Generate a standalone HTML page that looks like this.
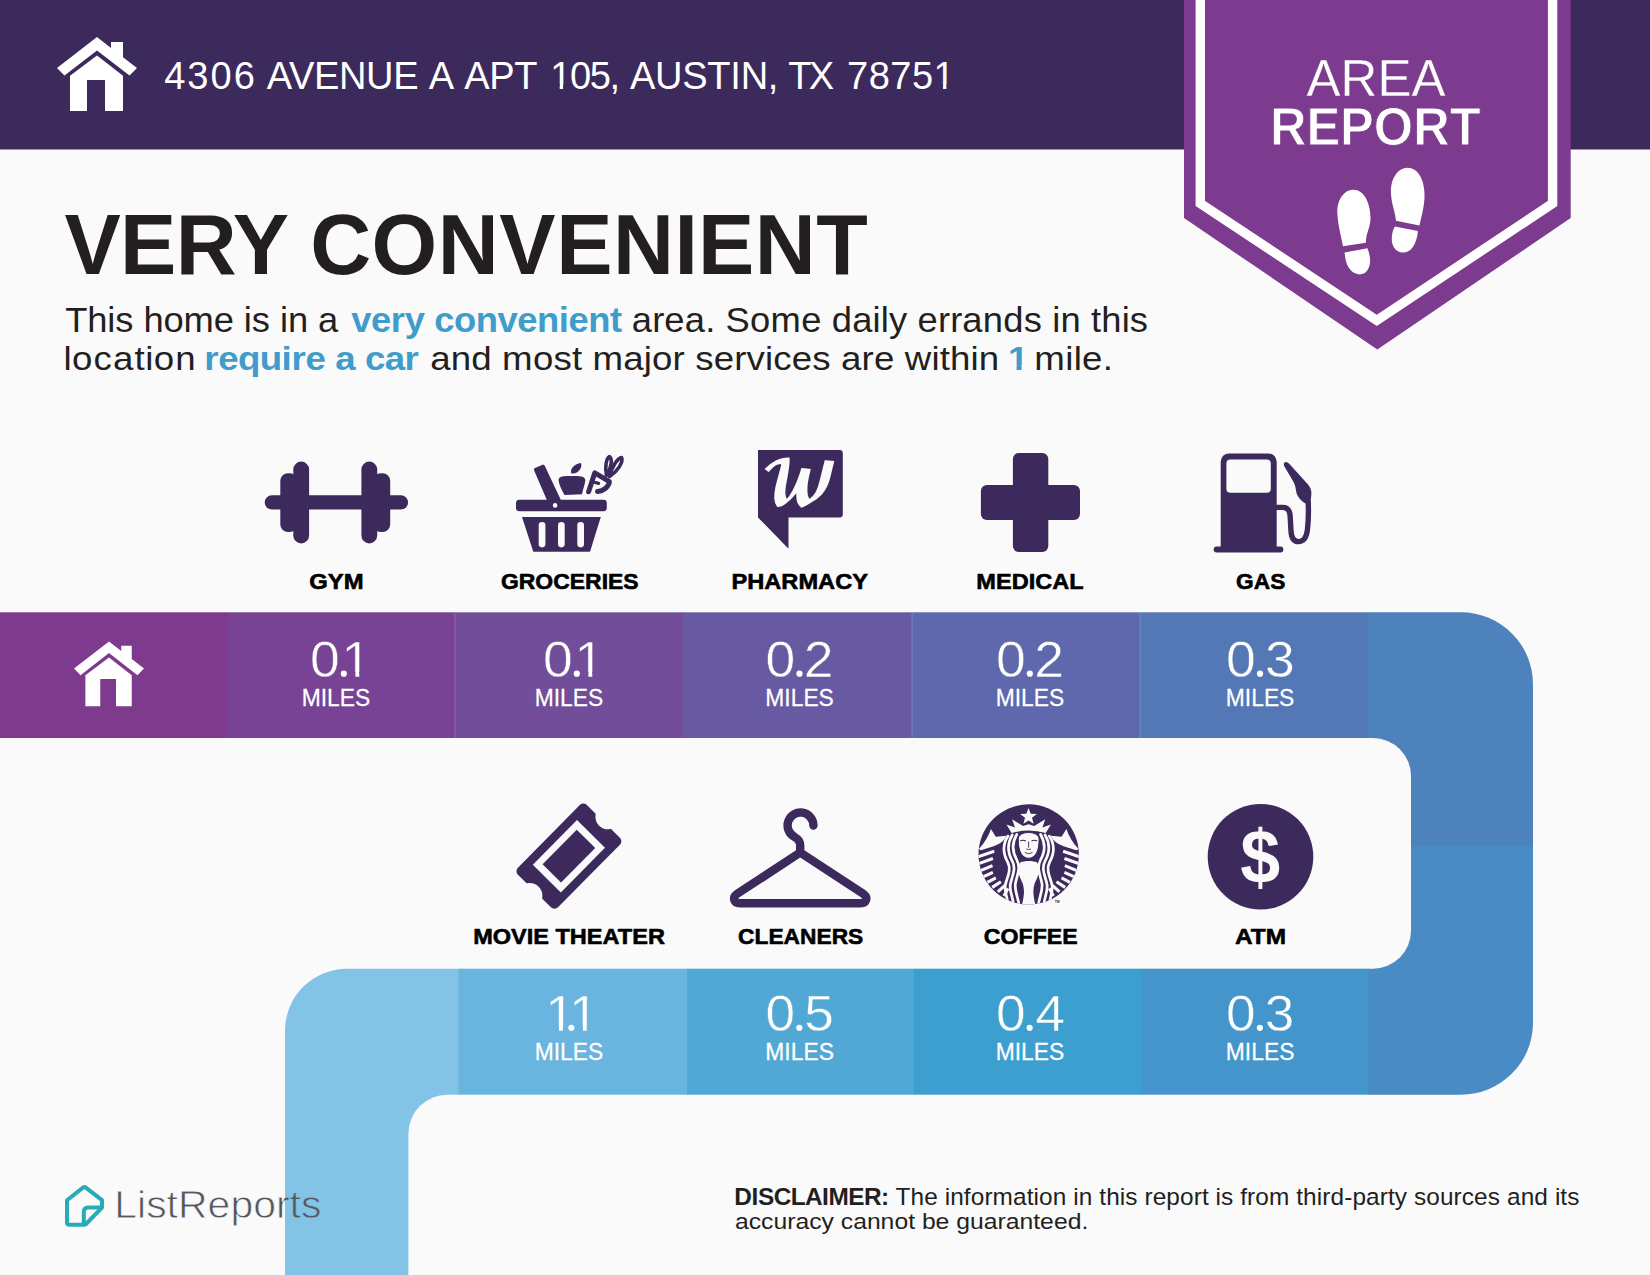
<!DOCTYPE html>
<html lang="en"><head><meta charset="utf-8"><title>Area Report</title>
<style>
html,body{margin:0;padding:0;background:#fafafa;}
body{width:1650px;height:1275px;overflow:hidden;}
svg{display:block;font-family:"Liberation Sans", Arial, sans-serif;}
</style></head>
<body>
<svg width="1650" height="1275" viewBox="0 0 1650 1275">
<rect x="0" y="0" width="1650" height="1275" fill="#fafafa"/>
<rect x="0" y="0" width="1650" height="149.5" fill="#3c2a5c"/>
<polygon points="97.00,37.00 111.00,47.90 111.00,42.00 123.00,42.00 123.00,57.20 137.00,68.00 129.50,75.60 97.00,50.40 64.50,75.60 57.00,68.00" fill="#ffffff"/><polygon points="97.00,55.50 123.00,75.70 123.00,111.00 70.00,111.00 70.00,75.70" fill="#ffffff"/><polygon points="87.00,80.00 105.00,80.00 105.00,112.00 87.00,112.00" fill="#3c2a5c"/>
<polygon points="1184,0 1570.7,0 1570.7,218 1377.3,349.5 1184,218" fill="#7d3b8f"/>
<polyline points="1200.3,-5 1200.3,203.5 1376.8,320.3 1552.6,203.5 1552.6,-5" fill="none" stroke="#ffffff" stroke-width="9.4" stroke-linejoin="miter"/>
<rect x="0" y="612.3" width="228.5" height="125.7" fill="#7e3a8d"/>
<rect x="228" y="612.3" width="227.5" height="125.7" fill="#784394"/>
<rect x="455" y="612.3" width="228.5" height="125.7" fill="#724d9a"/>
<rect x="683" y="612.3" width="229.5" height="125.7" fill="#685aa2"/>
<rect x="912" y="612.3" width="228.5" height="125.7" fill="#5f68ac"/>
<rect x="1140" y="612.3" width="228.5" height="125.7" fill="#5478b6"/>
<path d="M1368 612.3 H1461 A72 72 0 0 1 1533 684.3 V846 H1411 V776 A38 38 0 0 0 1373 738 H1368 Z" fill="#4e82bd"/>
<path d="M1411 846 H1533 V1022.7 A72 72 0 0 1 1461 1094.7 H1368 V968.7 H1373 A38 38 0 0 0 1411 930.7 Z" fill="#498bc5"/>
<rect x="458" y="968.7" width="229.5" height="126" fill="#69b5df"/>
<rect x="687" y="968.7" width="227.5" height="126" fill="#52a8d5"/>
<rect x="914" y="968.7" width="227.5" height="126" fill="#3d9ed0"/>
<rect x="1141" y="968.7" width="227.5" height="126" fill="#4395cb"/>
<path d="M458.5 968.7 H347 A62 62 0 0 0 285 1030.7 V1275 H408.4 V1133.7 A39 39 0 0 1 447.4 1094.7 H458.5 Z" fill="#83c4e6"/>
<rect x="454.5" y="612.3" width="1" height="125.7" fill="#ffffff" opacity="0.18"/>
<rect x="911.5" y="612.3" width="1" height="125.7" fill="#ffffff" opacity="0.18"/>
<rect x="1139.5" y="612.3" width="1" height="125.7" fill="#ffffff" opacity="0.18"/>
<polygon points="109.00,641.40 121.25,650.94 121.25,645.77 131.75,645.77 131.75,659.07 144.00,668.52 137.44,675.17 109.00,653.12 80.56,675.17 74.00,668.52" fill="#ffffff"/><polygon points="109.00,657.59 131.75,675.26 131.75,706.15 85.38,706.15 85.38,675.26" fill="#ffffff"/><polygon points="100.25,679.02 116.00,679.02 116.00,707.02 100.25,707.02" fill="#7e3a8d"/>
<!-- ===== footprints in badge ===== -->
<g fill="#ffffff">
<path d="M1353.6 189.7 C1343.6 189.7 1337 200.5 1337.3 212.3 C1337.5 220 1339 227 1340.2 233 L1343 246.3 L1365.9 242.7 C1365.9 239.6 1366.2 237 1367 234.2 C1368.6 229 1370.7 224 1370.5 217.6 C1370.2 202 1363.6 189.7 1353.6 189.7 Z"/>
<path d="M1344.6 252.4 L1367.4 248.3 C1369.2 252.6 1370.4 257.4 1370 262.6 C1369.4 269.6 1365.6 274.4 1359.8 274.4 C1353 274.4 1348.2 268.6 1346.4 262.6 C1345.4 259 1344.8 255.6 1344.6 252.4 Z"/>
<path d="M1407.7 167.7 C1397.4 167.7 1390.6 179.4 1390.9 192 C1391.1 198.4 1392.3 203.6 1393.5 208.4 C1394.7 213 1395.7 216.8 1396 220.8 L1419.4 225.4 L1422.4 212.6 C1423.6 207 1424.7 200.6 1424.5 193.4 C1424.1 179 1417.6 167.7 1407.7 167.7 Z"/>
<path d="M1394.9 226.4 L1417.9 231 C1417.7 234 1417.2 237 1416.2 240 C1414 247 1409.6 252.5 1403.4 252.5 C1397.2 252.5 1392.6 247.6 1391.9 241.4 C1391.5 237.4 1392.2 233.4 1393 230.6 Z"/>
</g>

<!-- ===== GYM ===== -->
<g fill="#3c2a5c">
<rect x="264.7" y="495.3" width="143.4" height="14.2" rx="7.1"/>
<rect x="293.3" y="461.6" width="15.8" height="81.8" rx="7.9"/>
<rect x="280.3" y="473.2" width="17" height="58.8" rx="7.5"/>
<rect x="361.4" y="461.6" width="15.8" height="81.8" rx="7.9"/>
<rect x="373.2" y="473.2" width="17" height="58.8" rx="7.5"/>
</g>

<!-- ===== GROCERIES ===== -->
<g fill="#3c2a5c">
<rect x="516" y="499.8" width="90.8" height="11.4" rx="3.4"/>
<polygon points="522,517 600.8,517 590,551.8 533.3,551.8"/>
<polygon points="535.6,469.6 543.2,466.4 559.2,500.5 550,503" stroke="#3c2a5c" stroke-width="3.4" stroke-linejoin="round"/>
<path d="M558.6 479.4 C559.4 476.4 563 476 571.4 476 C580.4 476 584.4 476.4 585.2 479.4 C585.6 482 583.8 486.4 582 494.2 L564.8 495 C563.2 493.2 558.2 483 558.6 479.4 Z"/>
<path d="M571.4 473.4 C569.6 469.8 573.6 463.8 581 463 C582.6 467.6 578.6 474.2 571.4 473.4 Z"/>
</g>
<g fill="#fafafa">
<rect x="538.7" y="522" width="6.7" height="25.4" rx="3.3"/>
<rect x="558" y="522" width="6.7" height="25.4" rx="3.3"/>
<rect x="577.3" y="522" width="6.7" height="25.4" rx="3.3"/>
<circle cx="555.1" cy="505.4" r="2.3"/>
</g>
<g fill="none" stroke="#3c2a5c" stroke-linejoin="round" stroke-linecap="round">
<path d="M588.6 491.8 L594.8 472.8 L609.4 481.6 C609 486.6 603.6 491 597.6 491.6" stroke-width="5"/>
<path d="M594.4 482.2 L598.6 483.4" stroke-width="3.2"/>
<path d="M606.4 475.4 C604.8 467 606.2 458.4 609.4 456.6 C612.6 458.6 611.6 468 606.4 475.4 Z" stroke-width="3.6"/>
<path d="M609.6 476.6 C611.6 467 617 458.8 621.6 457.6 C623.6 462 617.4 471.6 609.6 476.6 Z" stroke-width="3.6"/>
</g>

<!-- ===== PHARMACY ===== -->
<path d="M758 450 H839.6 A3.2 3.2 0 0 1 842.8 453.2 V514.2 A3.2 3.2 0 0 1 839.6 517.4 H788.5 V548.8 L758 517.4 Z" fill="#3c2a5c"/>
<text id="wlogo" transform="translate(759.9 503.2)" font-family="&quot;DejaVu Math TeX Gyre&quot;, &quot;DejaVu Serif&quot;, &quot;Liberation Serif&quot;, serif" font-size="57" fill="#fafafa">&#x1D4E6;</text>

<!-- ===== MEDICAL ===== -->
<g fill="#3c2a5c">
<rect x="1012.9" y="452.9" width="35.4" height="99.1" rx="6"/>
<rect x="980.9" y="485" width="99.1" height="35" rx="6"/>
</g>

<!-- ===== GAS ===== -->
<g fill="#3c2a5c">
<path d="M1220.7 547 V461.8 A8.4 8.4 0 0 1 1229.1 453.4 H1268.3 A8.4 8.4 0 0 1 1276.7 461.8 V547 Z"/>
<rect x="1213.7" y="546.4" width="69.7" height="6" rx="3"/>
<path d="M1284.6 462.6 C1286 461.6 1287.4 462 1289 463.6 L1307.6 484 C1310.6 487.4 1311.6 490.4 1311.4 494 L1310.2 505 L1304.6 503 C1300 500 1296.6 495.6 1296 490.6 C1295.6 487 1295 484.6 1293 481 L1284.4 466.6 C1283.6 465 1283.6 463.6 1284.6 462.6 Z"/>
</g>
<rect x="1226.4" y="459.4" width="44.4" height="33.4" rx="4" fill="#fafafa"/>
<path d="M1276 507.4 H1282.6 C1288.6 507.4 1290 511.6 1290.2 517 L1291 531 C1291.4 538 1293.6 541.6 1298.4 541.6 C1303.6 541.6 1306.4 537.6 1307.4 530 C1308.6 520 1308.6 511 1308.2 502" fill="none" stroke="#3c2a5c" stroke-width="5.4" stroke-linecap="round"/>

<!-- ===== MOVIE THEATER ===== -->
<g transform="translate(568.9 856.2) rotate(-45.3)">
<rect x="-49" y="-28.2" width="98" height="56.4" rx="5" fill="#3c2a5c"/>
<circle cx="-55.6" cy="0" r="12.6" fill="#fafafa"/>
<circle cx="55.6" cy="0" r="12.6" fill="#fafafa"/>
<rect x="-31.4" y="-19.7" width="62.8" height="39.4" fill="#fafafa"/>
<rect x="-24.3" y="-13" width="48.6" height="26" fill="#3c2a5c"/>
</g>

<!-- ===== CLEANERS ===== -->
<path d="M813.4 825.6 A12.9 12.9 0 1 0 794.4 836.8 C798.6 839.2 800.2 841.6 800.2 845.4 V852.6 L737.6 893.6 C731.6 897.6 734 903.2 740 903.2 H860.4 C866.4 903.2 868.8 897.6 862.8 893.6 L800.2 852.6" fill="none" stroke="#3c2a5c" stroke-width="8.4" stroke-linecap="round" stroke-linejoin="round"/>

<!-- ===== ATM ===== -->
<circle cx="1260.5" cy="856.7" r="52.8" fill="#3c2a5c"/>

<g transform="translate(955 790) scale(0.10197)">
<clipPath id="sbc"><circle cx="722.5" cy="632.5" r="492"/></clipPath>
<circle cx="722.5" cy="632.5" r="492" fill="#3c2a5c"/>
<g clip-path="url(#sbc)">
<polygon points="721.0,176.0 742.2,232.9 802.8,235.4 755.2,273.1 771.5,331.6 721.0,298.0 670.5,331.6 686.8,273.1 639.2,235.4 699.8,232.9" fill="#fafafa"/>
<path d="M505 338 L588 368 L560 287 L668 354 L722 336 L777 354 L885 287 L857 368 L940 338 L890 422 Q722 372 555 422 Z" fill="#fafafa"/>
<path d="M 352 382 L 400 458 L 505 448 C 470 520 420 545 250 590 L 235 575 C 290 520 330 450 352 382 Z" fill="#fafafa"/>
<path d="M 1093 382 L 1045 458 L 940 448 C 975 520 1025 545 1195 590 L 1210 575 C 1155 520 1115 450 1093 382 Z" fill="#fafafa"/>
<path d="M 225 655 L 385 600" stroke="#fafafa" stroke-width="30" fill="none"/>
<path d="M 1220 655 L 1060 600" stroke="#fafafa" stroke-width="30" fill="none"/>
<path d="M 232 722 L 372 672" stroke="#fafafa" stroke-width="30" fill="none"/>
<path d="M 1213 722 L 1073 672" stroke="#fafafa" stroke-width="30" fill="none"/>
<path d="M 250 790 L 368 742" stroke="#fafafa" stroke-width="30" fill="none"/>
<path d="M 1195 790 L 1077 742" stroke="#fafafa" stroke-width="30" fill="none"/>
<path d="M 280 850 L 372 808" stroke="#fafafa" stroke-width="30" fill="none"/>
<path d="M 1165 850 L 1073 808" stroke="#fafafa" stroke-width="30" fill="none"/>
<path d="M 318 905 L 400 862" stroke="#fafafa" stroke-width="30" fill="none"/>
<path d="M 1127 905 L 1045 862" stroke="#fafafa" stroke-width="30" fill="none"/>
<path d="M 365 955 L 450 900" stroke="#fafafa" stroke-width="30" fill="none"/>
<path d="M 1080 955 L 995 900" stroke="#fafafa" stroke-width="30" fill="none"/>
<path d="M 420 1000 L 490 935" stroke="#fafafa" stroke-width="30" fill="none"/>
<path d="M 1025 1000 L 955 935" stroke="#fafafa" stroke-width="30" fill="none"/>
<path d="M 480 1040 L 520 965" stroke="#fafafa" stroke-width="30" fill="none"/>
<path d="M 965 1040 L 925 965" stroke="#fafafa" stroke-width="30" fill="none"/>
<path d="M 606 436 C 556 520 556 600 608 690 C 650 770 602 850 592 920 C 582 990 622 1060 627 1125" stroke="#fafafa" stroke-width="27" fill="none" stroke-linecap="round"/>
<path d="M 839 436 C 889 520 889 600 837 690 C 795 770 843 850 853 920 C 863 990 823 1060 818 1125" stroke="#fafafa" stroke-width="27" fill="none" stroke-linecap="round"/>
<path d="M 562 440 C 508 530 512 610 563 700 C 605 780 552 860 542 930 C 534 1000 572 1060 572 1120" stroke="#fafafa" stroke-width="27" fill="none" stroke-linecap="round"/>
<path d="M 883 440 C 937 530 933 610 882 700 C 840 780 893 860 903 930 C 911 1000 873 1060 873 1120" stroke="#fafafa" stroke-width="27" fill="none" stroke-linecap="round"/>
<path d="M 520 452 C 462 540 468 620 518 710 C 560 790 502 870 492 940 C 486 1000 512 1050 514 1090" stroke="#fafafa" stroke-width="27" fill="none" stroke-linecap="round"/>
<path d="M 925 452 C 983 540 977 620 927 710 C 885 790 943 870 953 940 C 959 1000 933 1050 931 1090" stroke="#fafafa" stroke-width="27" fill="none" stroke-linecap="round"/>
<path d="M 640 712 C 680 692 765 692 805 712 C 850 790 810 850 780 920 C 760 985 768 1050 790 1130 L 655 1130 C 677 1050 685 985 665 920 C 635 850 595 790 640 712 Z" fill="#fafafa"/>
<path d="M 620 480 C 620 432 680 416 722 416 C 764 416 825 432 825 480 C 825 575 800 668 722 670 C 645 668 620 575 620 480 Z" fill="#fafafa" stroke="#3c2a5c" stroke-width="10"/>
<path d="M 640 498 Q 668 486 695 500 M 750 500 Q 777 486 805 498" stroke="#3c2a5c" stroke-width="11" fill="none"/>
<path d="M 722 505 L 722 565 M 700 578 Q 722 590 745 578 M 685 612 Q 722 640 760 612" stroke="#3c2a5c" stroke-width="9" fill="none"/>
</g>
<text x="978" y="1112" font-size="34" font-weight="700" fill="#3c2a5c">TM</text>
</g>
<text transform="translate(1240.35 883.00) scale(0.9357 1)" font-size="76.80" font-weight="700" fill="#fafafa">$</text>
<g fill="none" stroke="#27abb6" stroke-width="4" stroke-linejoin="round" stroke-linecap="round">
<path d="M83 1187.6 Q84.4 1186.4 85.8 1187.6 L102 1200.2 V1207.6 L86 1224 Q85.2 1224.8 84 1224.8 H69.4 Q67 1224.8 67 1222.4 V1200.2 Z"/>
<path d="M100.8 1207.6 H88.2 C85.4 1207.6 83.8 1209.4 83.8 1212.2 V1223.4"/>
</g>
<text xml:space="preserve" transform="translate(164.13 88.50) scale(0.9957 1)" font-size="38.23"><tspan x="-0.00 23.33 46.65 69.98 93.31" font-weight="400" fill="#ffffff">4306 </tspan><tspan x="102.94 125.31 150.47 175.63 202.87 230.11 255.28 265.76 290.92 301.40 326.56 351.72 374.76" font-weight="400" fill="#ffffff">AVENUE A APT </tspan><tspan x="387.69 407.58 427.47 447.36 457.29" font-weight="400" fill="#ffffff">105, </tspan><tspan x="467.83 493.02 520.30 545.50 568.57 579.06 606.34 616.84" font-weight="400" fill="#ffffff">AUSTIN, </tspan><tspan x="626.73 647.29 669.73" font-weight="400" fill="#ffffff">TX </tspan><tspan x="685.89 707.59 729.29 750.99 772.69" font-weight="400" fill="#ffffff">78751</tspan></text>
<text xml:space="preserve" transform="translate(64.42 274.40) scale(0.9943 1)" font-size="84.89"><tspan x="0.00 55.97 111.93 169.41 225.38" font-weight="700" fill="#231f20">VERY </tspan><tspan x="247.13 308.97 375.58 437.43 494.54 551.66 613.50 637.30 694.41 756.26" font-weight="700" fill="#231f20">CONVENIENT</tspan></text>
<text xml:space="preserve" transform="translate(65.18 332.40) scale(1.0418 1)" font-size="34.88"><tspan x="-0.00 21.18 40.45 48.16 65.49 75.12 94.40 113.68 142.56 161.84 171.47 179.17 196.50 206.13 213.83 233.11 242.74 262.02" font-weight="400" fill="#231f20">This home is in a </tspan><tspan x="274.68 293.64 312.61 325.88 344.84 354.32 373.28 394.11 414.94 433.91 452.87 473.70 483.18 502.14 522.97" font-weight="700" fill="#3f9ccb">very convenient</tspan><tspan x="534.02 543.81 563.42 575.16 594.76 614.37 624.16 633.95 657.47 677.07 706.43 726.04 735.83 755.44 775.04 782.87 790.70 808.33 818.12 837.73 849.46 861.20 880.81 900.41 920.02 937.64 947.43 955.27 974.87 984.66 994.46 1014.06 1021.89" font-weight="400" fill="#231f20"> area. Some daily errands in this</tspan></text>
<text xml:space="preserve" transform="translate(63.53 369.60) scale(1.0977 1)" font-size="33.40"><tspan x="0.00 7.83 27.42 45.03 64.62 74.40 82.23 101.82 121.41" font-weight="400" fill="#231f20">location </tspan><tspan x="128.23 140.88 158.96 178.81 198.66 207.69 220.34 238.42 247.45 265.53 274.56 292.63 310.71" font-weight="700" fill="#3f9ccb">require a car</tspan><tspan x="324.63 333.99 352.72 371.45 390.18 399.54 427.60 446.33 463.17 472.52 481.88 509.93 528.66 536.15 554.88 566.09 575.45 592.29 611.02 622.24 639.07 646.56 663.40 682.13 698.97 708.32 727.05 738.27 757.00 766.36 790.68 798.16 807.52 826.25 833.73 852.46" font-weight="400" fill="#231f20"> and most major services are within </tspan><tspan x="860.42" font-weight="700" fill="#3f9ccb">1</tspan><tspan x="874.92 884.36 912.67 920.22 927.77 946.67" font-weight="400" fill="#231f20"> mile.</tspan></text>
<text xml:space="preserve" transform="translate(1306.60 95.50) scale(0.9878 1)" font-size="51.60" stroke="#7d3b8f" stroke-width="0.3" stroke-linejoin="round"><tspan x="0.00 34.42 71.68 106.10" font-weight="400" fill="#ffffff">AREA</tspan></text>
<text xml:space="preserve" transform="translate(1269.92 145.30) scale(0.9323 1)" font-size="54.22" stroke="#7d3b8f" stroke-width="0.9" stroke-linejoin="round"><tspan x="0.00 39.15 75.31 111.48 153.65 192.80" font-weight="700" fill="#ffffff">REPORT</tspan></text>
<text xml:space="preserve" transform="translate(309.32 589.30) scale(1.0395 1)" font-size="22.97" stroke="#000000" stroke-width="0.6" stroke-linejoin="round"><tspan x="0.00 17.86 33.18" font-weight="700" fill="#000000">GYM</tspan></text>
<text xml:space="preserve" transform="translate(500.96 589.30) scale(0.9987 1)" font-size="22.97" stroke="#000000" stroke-width="0.6" stroke-linejoin="round"><tspan x="0.00 17.86 34.45 52.31 68.90 84.21 100.80 107.18 122.50" font-weight="700" fill="#000000">GROCERIES</tspan></text>
<text xml:space="preserve" transform="translate(731.42 589.30) scale(1.0299 1)" font-size="22.97" stroke="#000000" stroke-width="0.6" stroke-linejoin="round"><tspan x="0.00 15.32 31.90 48.49 65.07 84.20 100.79 117.37" font-weight="700" fill="#000000">PHARMACY</tspan></text>
<text xml:space="preserve" transform="translate(976.32 589.30) scale(1.0267 1)" font-size="22.97" stroke="#000000" stroke-width="0.6" stroke-linejoin="round"><tspan x="0.00 19.13 34.45 51.03 57.41 74.00 90.58" font-weight="700" fill="#000000">MEDICAL</tspan></text>
<text xml:space="preserve" transform="translate(1236.07 589.30) scale(0.9890 1)" font-size="22.97" stroke="#000000" stroke-width="0.6" stroke-linejoin="round"><tspan x="0.00 17.86 34.45" font-weight="700" fill="#000000">GAS</tspan></text>
<text xml:space="preserve" transform="translate(473.13 943.60) scale(1.0312 1)" font-size="22.82" stroke="#000000" stroke-width="0.6" stroke-linejoin="round"><tspan x="0.00 19.01 36.76 51.98 58.32 73.54 79.88 93.82 110.30 125.52 140.31 154.25 169.47" font-weight="700" fill="#000000">MOVIE THEATER</tspan></text>
<text xml:space="preserve" transform="translate(738.07 943.60) scale(0.9976 1)" font-size="22.82" stroke="#000000" stroke-width="0.6" stroke-linejoin="round"><tspan x="0.00 16.48 30.42 45.64 62.12 78.60 93.82 110.30" font-weight="700" fill="#000000">CLEANERS</tspan></text>
<text xml:space="preserve" transform="translate(983.85 943.60) scale(1.0130 1)" font-size="22.82" stroke="#000000" stroke-width="0.6" stroke-linejoin="round"><tspan x="0.00 16.48 34.23 48.17 62.11 77.33" font-weight="700" fill="#000000">COFFEE</tspan></text>
<text xml:space="preserve" transform="translate(1234.99 943.60) scale(1.0692 1)" font-size="22.82" stroke="#000000" stroke-width="0.6" stroke-linejoin="round"><tspan x="0.00 14.79 28.73" font-weight="700" fill="#000000">ATM</tspan></text>
<text xml:space="preserve" transform="translate(309.91 676.60) scale(1.0700 1)" font-size="49.98" fill="#ffffff" stroke="#784394" stroke-width="0.5" x="0.00 24.74 29.53">0.1</text>
<text xml:space="preserve" transform="translate(301.63 706.00) scale(0.9579 1)" font-size="23.84" stroke="#ffffff" stroke-width="0.25" stroke-linejoin="round"><tspan x="0.00 19.86 26.48 39.74 55.64" font-weight="400" fill="#ffffff">MILES</tspan></text>
<text xml:space="preserve" transform="translate(542.91 676.60) scale(1.0700 1)" font-size="49.98" fill="#ffffff" stroke="#724d9a" stroke-width="0.5" x="0.00 24.74 29.53">0.1</text>
<text xml:space="preserve" transform="translate(534.63 706.00) scale(0.9579 1)" font-size="23.84" stroke="#ffffff" stroke-width="0.25" stroke-linejoin="round"><tspan x="0.00 19.86 26.48 39.74 55.64" font-weight="400" fill="#ffffff">MILES</tspan></text>
<text xml:space="preserve" transform="translate(765.61 676.60) scale(1.0700 1)" font-size="49.98" fill="#ffffff" stroke="#685aa2" stroke-width="0.5" x="0.00 24.74 35.75">0.2</text>
<text xml:space="preserve" transform="translate(765.33 706.00) scale(0.9579 1)" font-size="23.84" stroke="#ffffff" stroke-width="0.25" stroke-linejoin="round"><tspan x="0.00 19.86 26.48 39.74 55.64" font-weight="400" fill="#ffffff">MILES</tspan></text>
<text xml:space="preserve" transform="translate(995.91 676.60) scale(1.0700 1)" font-size="49.98" fill="#ffffff" stroke="#5f68ac" stroke-width="0.5" x="0.00 24.74 35.75">0.2</text>
<text xml:space="preserve" transform="translate(995.63 706.00) scale(0.9579 1)" font-size="23.84" stroke="#ffffff" stroke-width="0.25" stroke-linejoin="round"><tspan x="0.00 19.86 26.48 39.74 55.64" font-weight="400" fill="#ffffff">MILES</tspan></text>
<text xml:space="preserve" transform="translate(1226.11 676.60) scale(1.0700 1)" font-size="49.98" fill="#ffffff" stroke="#5478b6" stroke-width="0.5" x="0.00 24.74 36.36">0.3</text>
<text xml:space="preserve" transform="translate(1225.83 706.00) scale(0.9579 1)" font-size="23.84" stroke="#ffffff" stroke-width="0.25" stroke-linejoin="round"><tspan x="0.00 19.86 26.48 39.74 55.64" font-weight="400" fill="#ffffff">MILES</tspan></text>
<text xml:space="preserve" transform="translate(545.18 1030.70) scale(1.0700 1)" font-size="49.70" fill="#ffffff" stroke="#69b5df" stroke-width="0.5" x="0.00 17.58 22.35">1.1</text>
<text xml:space="preserve" transform="translate(534.63 1060.00) scale(0.9463 1)" font-size="24.13" stroke="#ffffff" stroke-width="0.25" stroke-linejoin="round"><tspan x="0.00 20.10 26.80 40.22 56.32" font-weight="400" fill="#ffffff">MILES</tspan></text>
<text xml:space="preserve" transform="translate(765.62 1030.70) scale(1.0700 1)" font-size="49.70" fill="#ffffff" stroke="#52a8d5" stroke-width="0.5" x="0.00 24.62 36.10">0.5</text>
<text xml:space="preserve" transform="translate(765.33 1060.00) scale(0.9463 1)" font-size="24.13" stroke="#ffffff" stroke-width="0.25" stroke-linejoin="round"><tspan x="0.00 20.10 26.80 40.22 56.32" font-weight="400" fill="#ffffff">MILES</tspan></text>
<text xml:space="preserve" transform="translate(995.92 1030.70) scale(1.0700 1)" font-size="49.70" fill="#ffffff" stroke="#3d9ed0" stroke-width="0.5" x="0.00 24.62 36.95">0.4</text>
<text xml:space="preserve" transform="translate(995.63 1060.00) scale(0.9463 1)" font-size="24.13" stroke="#ffffff" stroke-width="0.25" stroke-linejoin="round"><tspan x="0.00 20.10 26.80 40.22 56.32" font-weight="400" fill="#ffffff">MILES</tspan></text>
<text xml:space="preserve" transform="translate(1226.12 1030.70) scale(1.0700 1)" font-size="49.70" fill="#ffffff" stroke="#4395cb" stroke-width="0.5" x="0.00 24.62 36.20">0.3</text>
<text xml:space="preserve" transform="translate(1225.83 1060.00) scale(0.9463 1)" font-size="24.13" stroke="#ffffff" stroke-width="0.25" stroke-linejoin="round"><tspan x="0.00 20.10 26.80 40.22 56.32" font-weight="400" fill="#ffffff">MILES</tspan></text>
<linearGradient id="g33" gradientUnits="userSpaceOnUse" x1="159.90" y1="0" x2="159.92" y2="0"><stop offset="0" stop-color="#fafafa"/><stop offset="1" stop-color="#83c4e6"/></linearGradient>
<text xml:space="preserve" transform="translate(114.24 1218.40) scale(1.0678 1)" font-size="38.37" stroke="url(#g33)" stroke-width="0.8" stroke-linejoin="round"><tspan x="0.00 21.34 29.87 49.05 59.71 87.43 108.77 130.11 151.45 164.23 174.89" font-weight="400" fill="#56575b">ListReports</tspan></text>
<text xml:space="preserve" transform="translate(734.37 1205.20) scale(1.0495 1)" font-size="23.26"><tspan x="-0.00 16.21 22.44 37.41 53.62 67.33 83.54 89.77 108.47 123.43 139.64" font-weight="700" fill="#231f20">DISCLAIMER:</tspan><tspan x="146.97 153.49 167.82 180.86 193.90 200.42 205.63 218.68 225.19 238.24 246.05 265.59 278.63 285.15 290.36 303.40 316.45 322.96 328.17 341.22 347.74 354.25 367.30 372.51 384.23 390.75 398.56 411.61 424.65 437.70 445.51 452.02 458.54 463.75 475.48 481.99 488.51 496.32 509.37 528.90 535.42 541.94 554.98 560.19 568.00 581.05 588.86 601.90 614.95 622.76 629.27 641.00 647.52 659.25 672.29 685.33 693.15 704.87 717.92 729.64 736.16 749.21 762.25 775.29 781.81 787.02 793.54" font-weight="400" fill="#231f20"> The information in this report is from third-party sources and its</tspan></text>
<text xml:space="preserve" transform="translate(734.95 1229.20) scale(1.1199 1)" font-size="22.08"><tspan x="0.00 12.28 23.32 34.36 46.64 53.99 66.27 77.32 88.36 94.49 105.53 117.81 130.09 142.37 154.65 160.79 166.92 179.20 191.48 197.62 209.90 222.18 234.46 241.81 254.09 266.37 272.51 284.79 297.07 309.35" font-weight="400" fill="#231f20">accuracy cannot be guaranteed.</tspan></text>
<rect x="552.04" y="84.64" width="7.67" height="4.86" fill="#3c2a5c"/>
<rect x="563.07" y="84.64" width="7.38" height="4.86" fill="#3c2a5c"/>
<rect x="935.37" y="84.64" width="7.67" height="4.86" fill="#3c2a5c"/>
<rect x="946.40" y="84.64" width="7.38" height="4.86" fill="#3c2a5c"/>
<rect x="1009.30" y="365.19" width="7.25" height="5.41" fill="#fafafa"/>
<rect x="1021.58" y="365.19" width="6.78" height="5.41" fill="#fafafa"/>
<rect x="344.59" y="671.87" width="10.79" height="5.73" fill="#784394"/>
<rect x="359.27" y="671.87" width="10.38" height="5.73" fill="#784394"/>
<rect x="340.47" y="670.46" width="6.69" height="6.94" fill="#784394"/>
<circle cx="343.81" cy="673.70" r="3.1" fill="#ffffff"/>
<rect x="577.59" y="671.87" width="10.79" height="5.73" fill="#724d9a"/>
<rect x="592.27" y="671.87" width="10.38" height="5.73" fill="#724d9a"/>
<rect x="573.47" y="670.46" width="6.69" height="6.94" fill="#724d9a"/>
<circle cx="576.81" cy="673.70" r="3.1" fill="#ffffff"/>
<rect x="796.17" y="670.46" width="6.69" height="6.94" fill="#685aa2"/>
<circle cx="799.51" cy="673.70" r="3.1" fill="#ffffff"/>
<rect x="1026.47" y="670.46" width="6.69" height="6.94" fill="#5f68ac"/>
<circle cx="1029.81" cy="673.70" r="3.1" fill="#ffffff"/>
<rect x="1256.67" y="670.46" width="6.69" height="6.94" fill="#5478b6"/>
<circle cx="1260.01" cy="673.70" r="3.1" fill="#ffffff"/>
<rect x="548.24" y="1025.99" width="10.74" height="5.71" fill="#69b5df"/>
<rect x="562.84" y="1025.99" width="10.32" height="5.71" fill="#69b5df"/>
<rect x="572.15" y="1025.99" width="10.74" height="5.71" fill="#69b5df"/>
<rect x="586.75" y="1025.99" width="10.32" height="5.71" fill="#69b5df"/>
<rect x="568.05" y="1024.59" width="6.66" height="6.91" fill="#69b5df"/>
<circle cx="571.38" cy="1027.80" r="3.1" fill="#ffffff"/>
<rect x="796.02" y="1024.59" width="6.66" height="6.91" fill="#52a8d5"/>
<circle cx="799.35" cy="1027.80" r="3.1" fill="#ffffff"/>
<rect x="1026.32" y="1024.59" width="6.66" height="6.91" fill="#3d9ed0"/>
<circle cx="1029.65" cy="1027.80" r="3.1" fill="#ffffff"/>
<rect x="1256.52" y="1024.59" width="6.66" height="6.91" fill="#4395cb"/>
<circle cx="1259.85" cy="1027.80" r="3.1" fill="#ffffff"/>
</svg>
</body></html>
